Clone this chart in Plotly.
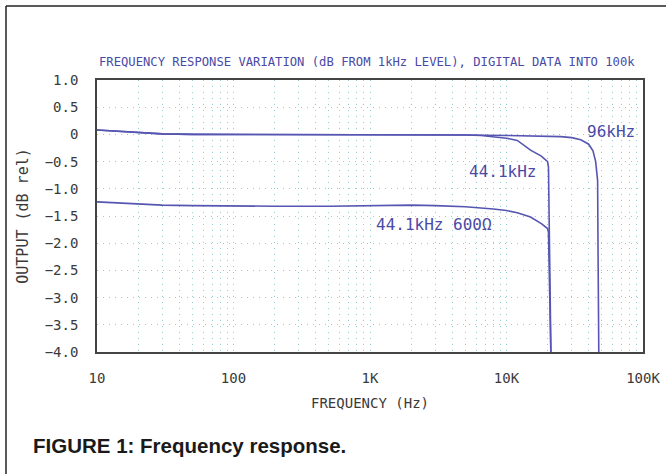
import math
import plotly.graph_objects as go

# ---- data ----
freq_96k = [10, 12, 15, 20, 30, 50, 100, 200, 500, 1000, 2000, 5000, 10000, 15000,
            20000, 25000, 30000, 35000, 40000, 43000, 45000, 46000, 46500, 46800, 47500]
db_96k = [0.08, 0.07, 0.05, 0.03, 0.01, 0.0, 0.0, 0.0, 0.0, 0.0, -0.005, -0.01, -0.02, -0.03,
          -0.03, -0.04, -0.06, -0.10, -0.18, -0.30, -0.50, -0.75, -0.85, -2.0, -4.2]

freq_44k = [10, 12, 15, 20, 30, 50, 100, 200, 500, 1000, 2000, 5000, 6500, 8000, 10000,
            12000, 15000, 18000, 20000, 20300, 20500, 20700, 21200]
db_44k = [0.08, 0.07, 0.05, 0.03, 0.01, 0.0, 0.0, 0.0, 0.0, 0.0, -0.005, -0.01, -0.02, -0.04,
          -0.07, -0.11, -0.29, -0.40, -0.50, -0.60, -1.5, -2.5, -4.2]

freq_600 = [10, 15, 20, 30, 50, 100, 200, 500, 1000, 2000, 3000, 5000, 8000, 10000,
            12000, 15000, 18000, 20000, 20300, 20600, 21200]
db_600 = [-1.24, -1.26, -1.28, -1.30, -1.31, -1.32, -1.32, -1.32, -1.31, -1.30, -1.31, -1.33,
          -1.37, -1.40, -1.44, -1.52, -1.64, -1.73, -1.80, -2.5, -4.2]

y_ticks = [1.0, 0.5, 0, -0.5, -1.0, -1.5, -2.0, -2.5, -3.0, -3.5, -4.0]
y_tick_text = ["1.0", "0.5", "0", "−0.5", "−1.0", "−1.5", "−2.0", "−2.5", "−3.0", "−3.5", "−4.0"]
x_major = [10, 100, 1000, 10000, 100000]
x_major_text = ["10", "100", "1K", "10K", "100K"]

curve_labels = [
    ("96kHz", 58000, 0.06),
    ("44.1kHz", 9400, -0.68),
    ("44.1kHz 600Ω", 2950, -1.65),
]

title_text = "FREQUENCY RESPONSE VARIATION (dB FROM 1kHz LEVEL), DIGITAL DATA INTO 100k"
caption_text = "FIGURE 1: Frequency response."

# ---- styling ----
line_color = "#5656b2"
label_color = "#4a4aa6"
grid_color = "#8fcfcf"
plot_font = "DejaVu Sans Mono"
axis_font = dict(family=plot_font, size=14, color="#3a3a3a")

# grid positions (log minor ticks)
x_grid = []
for dec in [10, 100, 1000, 10000]:
    for m in range(1, 10):
        x_grid.append(dec * m)
x_grid.append(100000)
x_grid_text = [x_major_text[x_major.index(v)] if v in x_major else "" for v in x_grid]

fig = go.Figure()
for fx, fy in [(freq_96k, db_96k), (freq_44k, db_44k), (freq_600, db_600)]:
    fig.add_trace(go.Scatter(x=fx, y=fy, mode="lines",
                             line=dict(color=line_color, width=1.6),
                             showlegend=False, hoverinfo="skip"))

for txt, fx, fy in curve_labels:
    fig.add_annotation(x=math.log10(fx), y=fy, xref="x", yref="y", text=txt,
                       showarrow=False, font=dict(family=plot_font, size=16, color=label_color))

fig.add_annotation(x=0, y=1.066, xref="paper", yref="paper", xanchor="left", yanchor="middle",
                   text=title_text, showarrow=False,
                   font=dict(family=plot_font, size=12.2, color=label_color))

fig.add_annotation(x=(31 - 97) / 546, y=(352 - 445) / 272, xref="paper", yref="paper",
                   xanchor="left", yanchor="middle", text="<b>" + caption_text + "</b>",
                   showarrow=False,
                   font=dict(family="Liberation Sans Narrow, Arial Narrow, Liberation Sans", size=20.5, color="#1a1a1a"))

# outer frame
fig.add_shape(type="line", xref="paper", yref="paper", x0=(6 - 97) / 546, x1=(6 - 97) / 546,
              y0=-2, y1=(352 - 6) / 272, line=dict(color="#222", width=1.5))
fig.add_shape(type="line", xref="paper", yref="paper", x0=(6 - 97) / 546, x1=2,
              y0=(352 - 6) / 272, y1=(352 - 6) / 272, line=dict(color="#222", width=1.5))

fig.update_layout(
    width=666, height=474,
    margin=dict(l=97, r=23, t=80, b=122),
    paper_bgcolor="white", plot_bgcolor="white",
    xaxis=dict(type="log", range=[1, 5], tickvals=x_grid, ticktext=x_grid_text,
               showgrid=True, gridcolor=grid_color, griddash="1px,5px", gridwidth=1,
               showline=True, mirror=True, linecolor="#444", linewidth=1.6,
               ticks="", tickfont=axis_font, ticklabelstandoff=12, zeroline=False,
               automargin=False,
               title=dict(text="FREQUENCY (Hz)", font=dict(family=plot_font, size=14, color="#3a3a3a"),
                          standoff=14)),
    yaxis=dict(range=[-4, 1], tickvals=y_ticks, ticktext=y_tick_text,
               showgrid=True, gridcolor=grid_color, griddash="1px,5px", gridwidth=1,
               showline=True, mirror=True, linecolor="#444", linewidth=1.6,
               ticks="", tickfont=axis_font, ticklabelstandoff=14, zeroline=False,
               automargin=False,
               title=dict(text="OUTPUT (dB rel)", font=dict(family=plot_font, size=15, color="#3a3a3a"),
                          standoff=12)),
)

fig.write_html("out.html")
